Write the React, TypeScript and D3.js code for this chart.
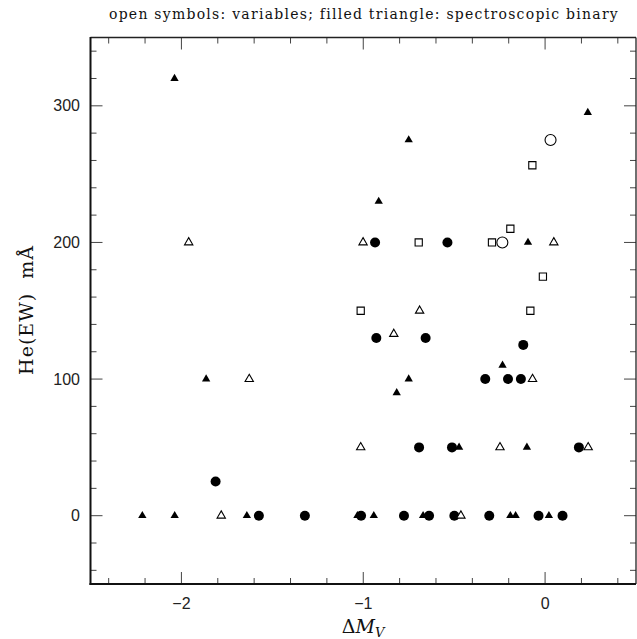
import React from "react";
import * as d3 from "d3";

const W = 637;
const H = 639;

const titleText = "open symbols: variables; filled triangle: spectroscopic binary";
const xTickLabels = [-2, -1, 0];
const yTickLabels = [0, 100, 200, 300];

// ΔM_V, He(EW) mÅ
const filledCircles: [number, number][] = [
  [-1.812, 25], [-1.574, 0], [-1.321, 0], [-0.935, 200], [-0.537, 200],
  [-0.928, 130], [-0.657, 130], [-0.12, 125], [-0.329, 100], [-0.204, 100],
  [-0.133, 100], [-0.693, 50], [-0.512, 50], [0.186, 50], [-1.012, 0],
  [-0.776, 0], [-0.638, 0], [-0.499, 0], [-0.307, 0], [-0.036, 0], [0.096, 0],
];
const filledTriangles: [number, number][] = [
  [-2.038, 320], [-1.864, 100], [-2.215, 0], [-2.037, 0], [-1.64, 0],
  [-0.75, 275], [0.235, 295], [-0.915, 230], [-0.094, 200], [-0.234, 110],
  [-0.75, 100], [-0.816, 90], [-0.473, 50], [-0.1, 50], [-1.032, 0],
  [-0.942, 0], [-0.671, 0], [-0.191, 0], [-0.162, 0], [0.021, 0],
];
const openTriangles: [number, number][] = [
  [-1.96, 200], [-1.627, 100], [-1.781, 0], [-1.001, 200], [0.048, 200],
  [-0.69, 150], [-0.832, 133], [-0.069, 100], [-1.014, 50], [-0.248, 50],
  [0.237, 50], [-0.463, 0],
];
const openSquares: [number, number][] = [
  [-0.07, 256.5], [-0.191, 210], [-0.695, 200], [-0.292, 200], [-0.012, 175],
  [-1.014, 150], [-0.081, 150],
];
const openCircles: [number, number][] = [
  [0.03, 275], [-0.235, 200],
];

export default function App() {
  const left = 90.5, right = 636, top = 37.5, bottom = 584;
  const x = d3.scaleLinear().domain([-2.5, 0.5]).range([left, right]);
  const y = d3.scaleLinear().domain([-50, 350]).range([bottom, top]);

  const tri = d3.symbol().type(d3.symbolTriangle).size(30)() as string;
  const sq = d3.symbol().type(d3.symbolSquare).size(52)() as string;

  const xMinor = d3.range(-24, 5, 2).map((v) => v / 10);
  const yMinor = d3.range(-40, 341, 20);
  const tickColor = "#444";
  const isMajorX = (v: number) => Math.abs(v - Math.round(v)) < 1e-6;
  const isMajorY = (v: number) => v % 100 === 0;

  return (
    <svg width={W} height={H} style={{ position: "absolute", left: 0, top: 0, background: "#fff" }}>
      <text x={364} y={19} textAnchor="middle" fontFamily="DejaVu Serif" fontSize={14} letterSpacing={1.25} fill="#111">
        {titleText}
      </text>

      {/* ticks */}
      {xMinor.map((v) => {
        const L = isMajorX(v) ? 12 : 6;
        return (
          <g key={"xt" + v}>
            <line x1={x(v)} x2={x(v)} y1={bottom} y2={bottom - L} stroke={tickColor} strokeWidth={1} />
            <line x1={x(v)} x2={x(v)} y1={top} y2={top + L} stroke={tickColor} strokeWidth={1} />
          </g>
        );
      })}
      {yMinor.map((v) => {
        const L = isMajorY(v) ? 12 : 6;
        return (
          <g key={"yt" + v}>
            <line x1={left} x2={left + L} y1={y(v)} y2={y(v)} stroke={tickColor} strokeWidth={1} />
            <line x1={right} x2={right - L} y1={y(v)} y2={y(v)} stroke={tickColor} strokeWidth={1} />
          </g>
        );
      })}

      {/* frame */}
      <line x1={left} x2={right} y1={top} y2={top} stroke="#222" strokeWidth={1.3} />
      <line x1={right} x2={right} y1={top} y2={bottom} stroke="#222" strokeWidth={1.3} />
      <line x1={left} x2={left} y1={top - 0.6} y2={bottom + 1} stroke="#111" strokeWidth={2} />
      <line x1={left - 1} x2={right} y1={bottom} y2={bottom} stroke="#111" strokeWidth={2} />

      {/* tick labels */}
      {xTickLabels.map((v) => (
        <text key={"xl" + v} x={x(v)} y={609} textAnchor="middle" fontFamily="Liberation Sans" fontSize={16} fill="#222">
          {v < 0 ? "\u2212" + Math.abs(v) : String(v)}
        </text>
      ))}
      {yTickLabels.map((v) => (
        <text key={"yl" + v} x={80} y={y(v) + 5.5} textAnchor="end" fontFamily="Liberation Sans" fontSize={16} fill="#222">
          {v}
        </text>
      ))}

      {/* axis titles */}
      <text x={363} y={633} textAnchor="middle" fontFamily="DejaVu Serif" fontSize={19} fill="#111">
        <tspan>Δ</tspan>
        <tspan fontStyle="italic">M</tspan>
        <tspan fontStyle="italic" fontSize={13} dy={4}>V</tspan>
      </text>
      <text
        transform={`translate(33, 310) rotate(-90)`}
        textAnchor="middle"
        fontFamily="DejaVu Serif"
        fontSize={19}
        letterSpacing={1}
        fill="#111"
        style={{ whiteSpace: "pre" }}
      >
        {"He(EW)  mÅ"}
      </text>

      {/* data */}
      {filledTriangles.map(([a, b], i) => (
        <path key={"ft" + i} d={tri} transform={`translate(${x(a)},${y(b)})`} fill="#000" />
      ))}
      {filledCircles.map(([a, b], i) => (
        <circle key={"fc" + i} cx={x(a)} cy={y(b)} r={5} fill="#000" />
      ))}
      {openTriangles.map(([a, b], i) => (
        <path key={"ot" + i} d={tri} transform={`translate(${x(a)},${y(b)})`} fill="#fff" stroke="#000" strokeWidth={1.1} />
      ))}
      {openSquares.map(([a, b], i) => (
        <path key={"os" + i} d={sq} transform={`translate(${x(a)},${y(b)})`} fill="#fff" stroke="#000" strokeWidth={1.1} />
      ))}
      {openCircles.map(([a, b], i) => (
        <circle key={"oc" + i} cx={x(a)} cy={y(b)} r={5.5} fill="#fff" stroke="#000" strokeWidth={1.1} />
      ))}
    </svg>
  );
}
